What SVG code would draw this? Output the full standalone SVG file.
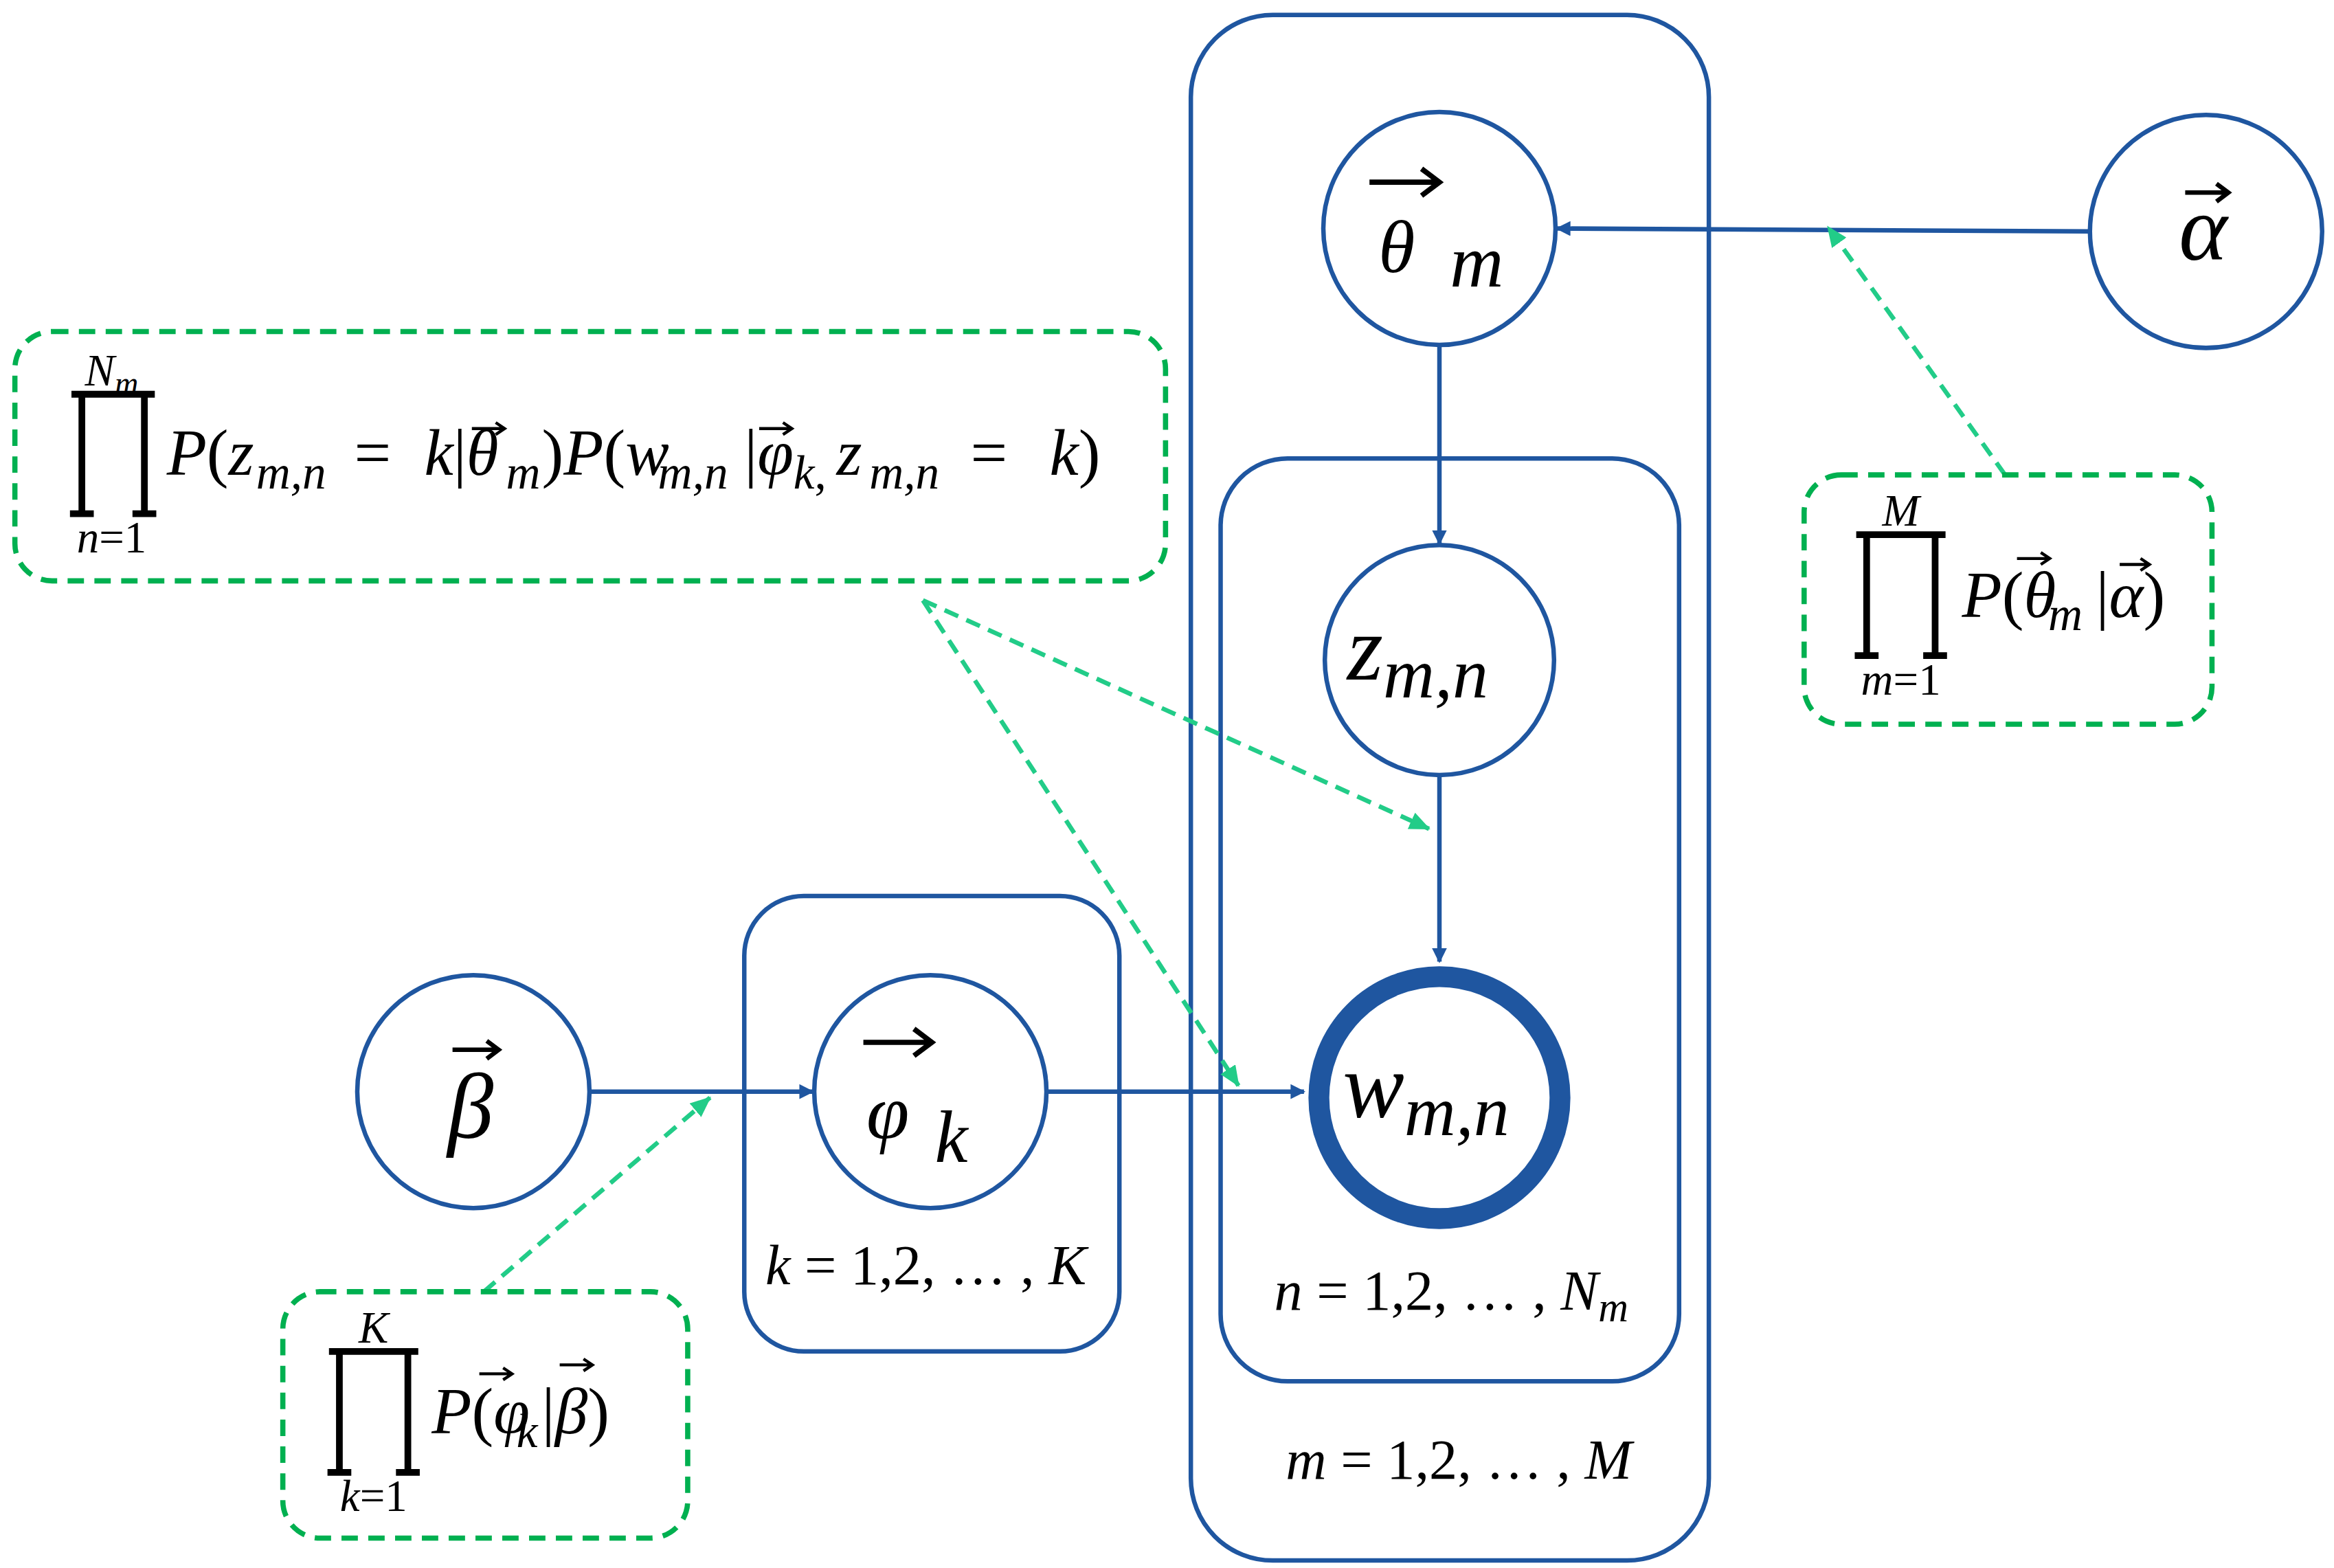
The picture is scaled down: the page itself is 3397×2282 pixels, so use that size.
<svg xmlns="http://www.w3.org/2000/svg" width="3397" height="2282" viewBox="0 0 3397 2282">
<style>
.plate{fill:none;stroke:#1f56a0;stroke-width:3}
.node{fill:#fff;stroke:#1f56a0;stroke-width:3}
.edge{stroke:#1f56a0;stroke-width:3;fill:none}
.note{fill:none;stroke:#00b050;stroke-width:3.5;stroke-dasharray:11 7}
.gedge{stroke:#22cc88;stroke-width:3;stroke-dasharray:10 6;fill:none}
.vec{stroke:#000;stroke-width:2;fill:none}
text{font-family:"Liberation Serif","DejaVu Serif",serif;font-style:italic;fill:#000}
.up{font-style:normal}
.f{font-size:44px}
.s{font-size:32px}
</style>
<defs>
<marker id="ab" markerWidth="10" markerHeight="10" refX="9" refY="5" orient="auto" markerUnits="userSpaceOnUse"><path d="M0,0 L10,5 L0,10 z" fill="#1f56a0"/></marker>
<marker id="ag" markerWidth="14" markerHeight="12" refX="13" refY="6" orient="auto" markerUnits="userSpaceOnUse"><path d="M0,0 L14,6 L0,12 z" fill="#22cc88"/></marker>
</defs>
<rect width="3397" height="2282" fill="#fff"/>
<g transform="scale(2.1665,2.1733)">
<g id="plates">
<rect class="plate" x="800" y="10" width="348" height="1035" rx="55"/>
<rect class="plate" x="820" y="307" width="308" height="618" rx="45"/>
<rect class="plate" x="500" y="600" width="252" height="305" rx="40"/>
<text x="622" y="860" font-size="38" text-anchor="middle">k <tspan class="up">= 1,2, … ,</tspan> K</text>
<text x="975" y="877" font-size="38" text-anchor="middle">n <tspan class="up">= 1,2, … ,</tspan> N<tspan font-size="28" dy="8">m</tspan></text>
<text x="980" y="990" font-size="38" text-anchor="middle">m <tspan class="up">= 1,2, … ,</tspan> M</text>
</g>
<g id="edges">
<line class="edge" x1="1404" y1="155" x2="1046" y2="153" marker-end="url(#ab)"/>
<line class="edge" x1="967" y1="231" x2="967" y2="364" marker-end="url(#ab)"/>
<line class="edge" x1="967" y1="519" x2="967" y2="644" marker-end="url(#ab)"/>
<line class="edge" x1="396" y1="731" x2="546" y2="731" marker-end="url(#ab)"/>
<line class="edge" x1="703" y1="731" x2="876" y2="731" marker-end="url(#ab)"/>
<line class="gedge" x1="620" y1="402" x2="960" y2="555" marker-end="url(#ag)"/>
<line class="gedge" x1="620" y1="402" x2="832" y2="727" marker-end="url(#ag)"/>
<line class="gedge" x1="1347" y1="318" x2="1228" y2="152" marker-end="url(#ag)"/>
<line class="gedge" x1="325" y1="865" x2="477" y2="735" marker-end="url(#ag)"/>
</g>
<g id="theta">
<circle class="node" cx="967" cy="153" r="78"/>
<text x="926" y="182" font-size="50">θ</text><text x="974" y="192" font-size="50">m</text>
<path d="M920 122 H966 M955 113 L967 122 L955 131" stroke="#000" stroke-width="3.5" fill="none"/>
</g>
<g id="alpha">
<circle class="node" cx="1482" cy="155" r="78"/>
<text x="1480" y="174" font-size="62" text-anchor="middle">α</text>
<path d="M1468 129 H1496 M1489 123 L1497 129 L1489 135" stroke="#000" stroke-width="3" fill="none"/>
</g>
<g id="z">
<circle class="node" cx="967" cy="442" r="77"/>
<text x="905" y="455" font-size="62">z<tspan font-size="48" dy="12">m,n</tspan></text>
</g>
<g id="w">
<circle cx="967" cy="735" r="81" fill="#fff" stroke="#1f56a0" stroke-width="14"/>
<text x="902" y="748" font-size="62">w<tspan font-size="48" dy="12">m,n</tspan></text>
</g>
<g id="beta">
<circle class="node" cx="318" cy="731" r="78"/>
<text x="316" y="762" font-size="62" text-anchor="middle">β</text>
<path d="M304 703 H334 M327 697 L335 703 L327 709" stroke="#000" stroke-width="3" fill="none"/>
</g>
<g id="phi">
<circle class="node" cx="625" cy="731" r="78"/>
<text x="582" y="762" font-size="52">φ</text><text x="628" y="778" font-size="50">k</text>
<path d="M580 698 H625 M614 689 L626 698 L614 707" stroke="#000" stroke-width="3.5" fill="none"/>
</g>
<g id="note1">
<rect class="note" x="10" y="222" width="773" height="167" rx="25"/>
<text x="75" y="258" font-size="30" text-anchor="middle">N<tspan font-size="22" dy="6">m</tspan></text>
<text x="75" y="370" font-size="30" text-anchor="middle">n<tspan class="up">=1</tspan></text>
<path d="M48 264 H104 M55 264 V343 M97 264 V343 M47 344 H63 M89 344 H105" stroke="#000" stroke-width="4.5" fill="none"/>
<text class="f" x="112" y="318">P<tspan class="up">(</tspan>z</text>
<text class="s" x="172" y="327">m,n</text>
<text class="f up" x="238" y="318">=</text>
<text class="f" x="285" y="318">k<tspan class="up">|</tspan>θ</text>
<text class="s" x="340" y="327">m</text>
<text class="f" x="364" y="318"><tspan class="up">)</tspan>P<tspan class="up">(</tspan>w</text>
<text class="s" x="442" y="327">m,n</text>
<text class="f" x="500" y="318"><tspan class="up">|</tspan>φ</text>
<text class="s" x="533" y="327">k<tspan class="up">,</tspan></text>
<text class="f" x="562" y="318">z</text>
<text class="s" x="584" y="327">m,n</text>
<text class="f up" x="652" y="318">=</text>
<text class="f" x="705" y="318">k<tspan class="up">)</tspan></text>
<path class="vec" d="M317 287 H338 M333 283 L339 287 L333 291 M510 287 H531 M526 283 L532 287 L526 291"/>
</g>
<g id="note2">
<rect class="note" x="1212" y="318" width="274" height="167" rx="25"/>
<text x="1277" y="352" font-size="30" text-anchor="middle">M</text>
<text x="1277" y="465" font-size="30" text-anchor="middle">m<tspan class="up">=1</tspan></text>
<path d="M1247 358 H1307 M1254 358 V438 M1300 358 V438 M1246 439 H1262 M1292 439 H1308" stroke="#000" stroke-width="4.5" fill="none"/>
<text class="f" x="1318" y="413">P<tspan class="up">(</tspan>θ</text>
<text class="s" x="1376" y="422">m</text>
<text class="f" x="1408" y="413"><tspan class="up">|</tspan>α<tspan class="up">)</tspan></text>
<path class="vec" d="M1355 374 H1376 M1371 370 L1377 374 L1371 378 M1424 378 H1443 M1438 374 L1444 378 L1438 382"/>
</g>
<g id="note3">
<rect class="note" x="190" y="865" width="272" height="165" rx="25"/>
<text x="251" y="899" font-size="30" text-anchor="middle">K</text>
<text x="251" y="1012" font-size="30" text-anchor="middle">k<tspan class="up">=1</tspan></text>
<path d="M221 905 H281 M228 905 V985 M274 905 V985 M220 986 H236 M266 986 H282" stroke="#000" stroke-width="4.5" fill="none"/>
<text class="f" x="290" y="960">P<tspan class="up">(</tspan>φ</text>
<text class="s" x="347" y="969">k</text>
<text class="f" x="364" y="960"><tspan class="up">|</tspan>β<tspan class="up">)</tspan></text>
<path class="vec" d="M322 920 H343 M338 916 L344 920 L338 924 M376 914 H397 M392 910 L398 914 L392 918"/>
</g>
</g>
</svg>
